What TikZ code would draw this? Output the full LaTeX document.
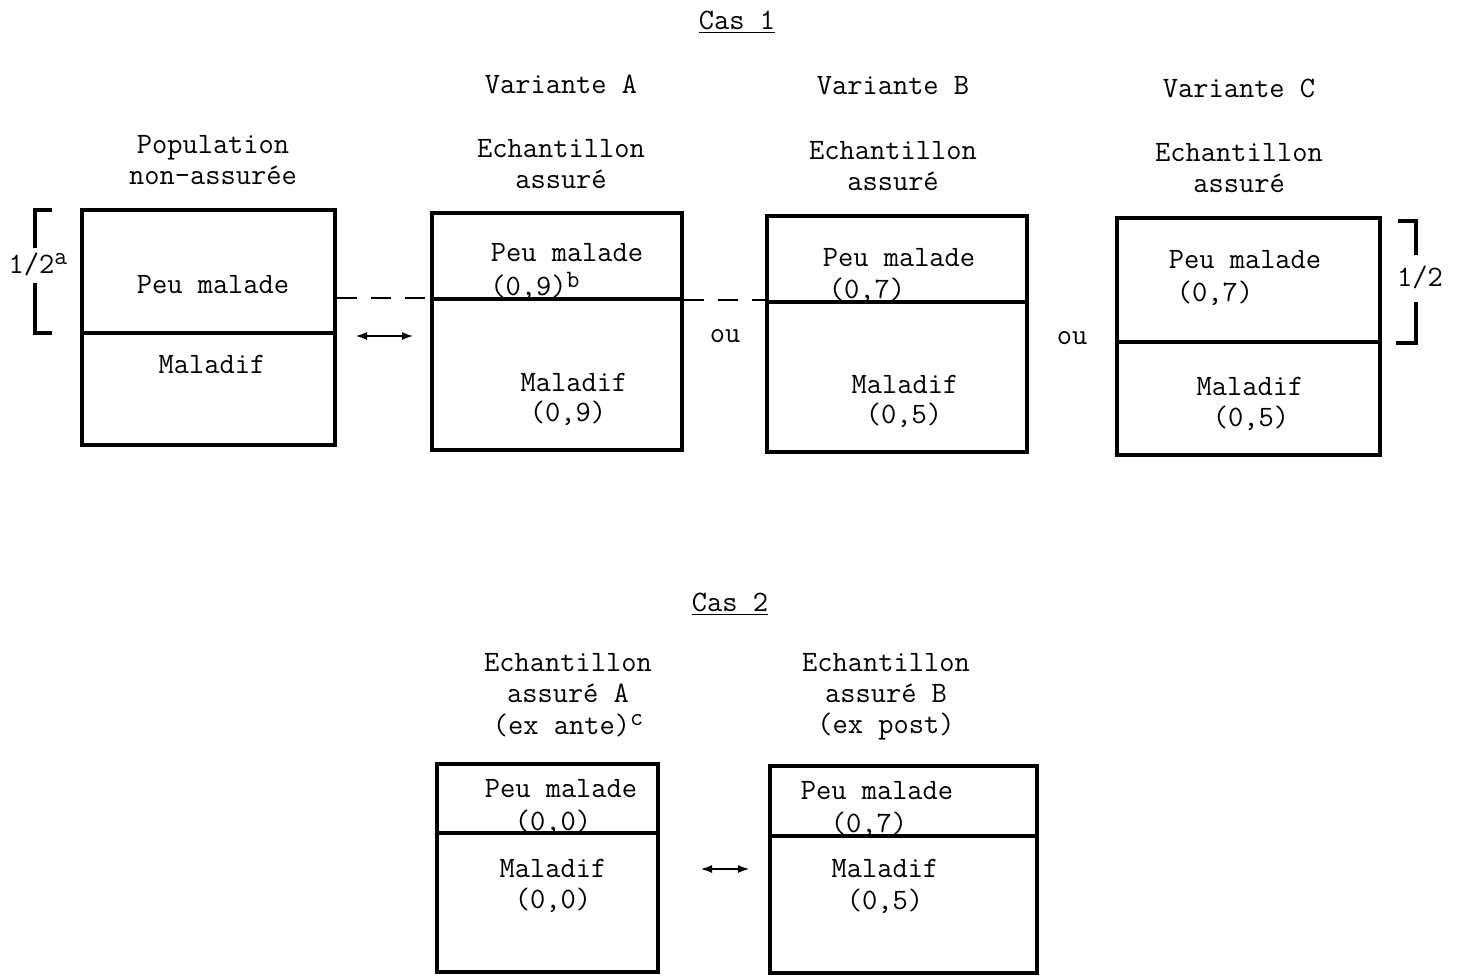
\documentclass[tikz,border=0pt]{standalone}
\usetikzlibrary{arrows.meta,fit}

\newcommand{\expo}[1]{\raisebox{0.65ex}{\fontsize{12.5}{12.5}\selectfont #1}}

\begin{document}
\begin{tikzpicture}[x=0.5pt, y=-0.5pt,
        font=\ttfamily\fontsize{14.8}{15.6}\selectfont,
        % Define block style
        box/.style={
        draw,
        line width=1.7pt,
        inner sep=0pt
        },
        txt/.style={inner sep=0pt, align=center},
        divide/.style={line width=1.7pt},
        bracket/.style={line width=1.9pt},
        dashline/.style={line width=1.3pt, dash pattern=on 10pt off 7pt},
        swap/.style={line width=1.3pt, {Latex[length=6pt,width=4pt]}-{Latex[length=6pt,width=4pt]}}
        ]
        \useasboundingbox (0,0) rectangle (1457,976);

        % Titles
        \node[txt] (cas1) at (737,22) {\underline{Cas 1}};
        \node[txt] (titA) at (561,84) {Variante A};
        \node[txt] (titB) at (893,86) {Variante B};
        \node[txt] (titC) at (1239,88) {Variante C};
        \node[txt] (headPop) at (213,160) {Population\\non-assurée};
        \node[txt] (headA) at (561,164) {Echantillon\\assuré};
        \node[txt] (headB) at (893,166) {Echantillon\\assuré};
        \node[txt] (headC) at (1239,168) {Echantillon\\assuré};

        % Boxes
        \node[box, fit={(82,210) (335,445)}] (pop) {};
        \node[box, fit={(432,213) (682,450)}] (varA) {};
        \node[box, fit={(767,216) (1027,452)}] (varB) {};
        \node[box, fit={(1117,218) (1380,455)}] (varC) {};
        \draw[divide] (pop.west |- 0,333) -- (pop.east |- 0,333);
        \draw[divide] (varA.west |- 0,299) -- (varA.east |- 0,299);
        \draw[divide] (varB.west |- 0,302) -- (varB.east |- 0,302);
        \draw[divide] (varC.west |- 0,342) -- (varC.east |- 0,342);

        % Box texts
        \node[txt] (popPeu) at (213,285) {Peu malade};
        \node[txt] (popMal) at (212,364) {Maladif};
        \node[txt] (aPeu) at (567,253) {Peu malade};
        \node[txt, anchor=west] (aPeuVal) at (490,286) {(0,9)\expo{b}};
        \node[txt] (aMal) at (574,382) {Maladif};
        \node[txt] (aMalVal) at (568,413) {(0,9)};
        \node[txt] (bPeu) at (899,258) {Peu malade};
        \node[txt] (bPeuVal) at (867,290) {(0,7)};
        \node[txt] (bMal) at (905,384) {Maladif};
        \node[txt] (bMalVal) at (904,415) {(0,5)};
        \node[txt] (cPeu) at (1245,260) {Peu malade};
        \node[txt] (cPeuVal) at (1215,293) {(0,7)};
        \node[txt] (cMal) at (1250,386) {Maladif};
        \node[txt] (cMalVal) at (1251,418) {(0,5)};
        \node[txt] (ou1) at (725,336) {ou};
        \node[txt] (ou2) at (1072,338) {ou};

        % Brackets
        \node[txt] (halfL) at (38,264) {1/2\expo{a}};
        \draw[bracket] (52,210) -- (35,210) -- (35,248);
        \draw[bracket] (35,283) -- (35,333) -- (52,333);
        \node[txt] (halfR) at (1420,277) {1/2};
        \draw[bracket] (1398,221) -- (1416,221) -- (1416,255);
        \draw[bracket] (1416,302) -- (1416,343) -- (1396,343);

        % Arrows
        \coordinate (s1) at (355,336);
        \coordinate (e1) at (414,336);
        \draw[swap] (s1) -- (e1);
        \draw[dashline] (pop.east |- 0,298) -- (varA.west |- 0,298);
        \draw[dashline] (varA.east |- 0,300) -- (varB.west |- 0,300);

        % Cas 2
        \node[txt] (cas2) at (730,604) {\underline{Cas 2}};
        \node[txt] (headAnte) at (568,695) {Echantillon\\assuré A\\(ex ante)\expo{c}};
        \node[txt] (headPost) at (886,697) {Echantillon\\assuré B\\(ex post)};
        \node[box, fit={(437,764) (658,972)}] (exante) {};
        \node[box, fit={(770,766) (1037,973)}] (expost) {};
        \draw[divide] (exante.west |- 0,833) -- (exante.east |- 0,833);
        \draw[divide] (expost.west |- 0,836) -- (expost.east |- 0,836);
        \node[txt] (antePeu) at (561,789) {Peu malade};
        \node[txt] (antePeuVal) at (553,822) {(0,0)};
        \node[txt] (anteMal) at (553,868) {Maladif};
        \node[txt] (anteMalVal) at (553,900) {(0,0)};
        \node[txt] (postPeu) at (877,791) {Peu malade};
        \node[txt] (postPeuVal) at (869,824) {(0,7)};
        \node[txt] (postMal) at (885,868) {Maladif};
        \node[txt] (postMalVal) at (885,901) {(0,5)};
        \coordinate (s2) at (700,869);
        \coordinate (e2) at (750,869);
        \draw[swap] (s2) -- (e2);
    \end{tikzpicture}
\end{document}
